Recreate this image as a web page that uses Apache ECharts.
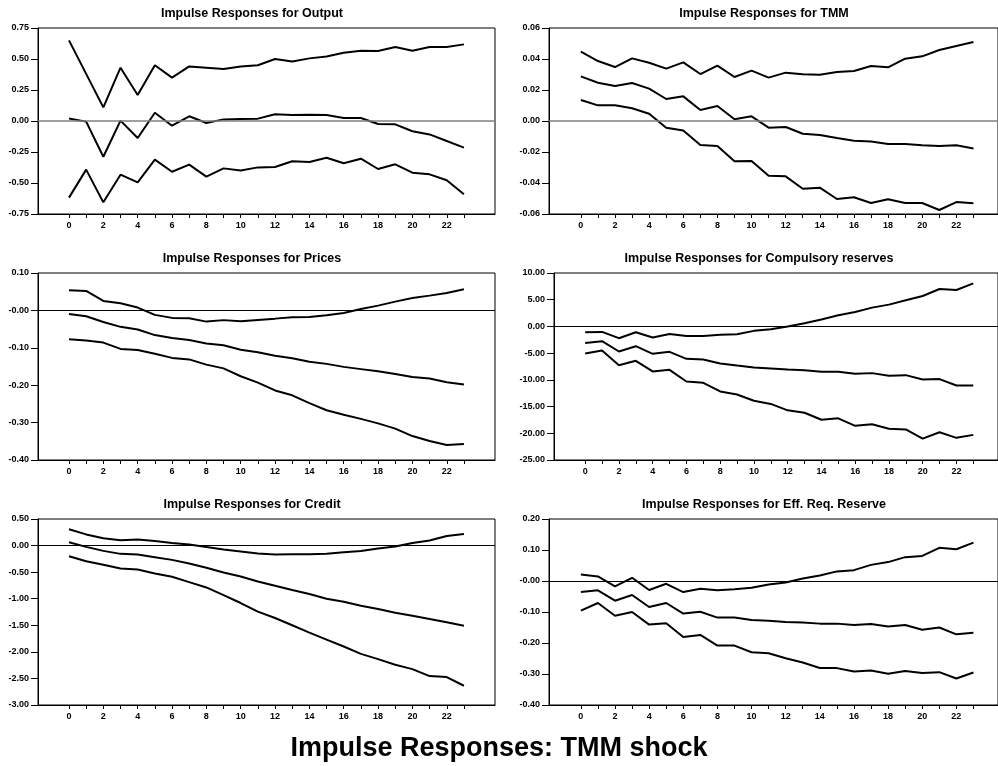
<!DOCTYPE html>
<html>
<head>
<meta charset="utf-8">
<script src="https://cdn.jsdelivr.net/npm/echarts@6/dist/echarts.min.js"></script>
<style>
html, body { margin: 0; padding: 0; background: #fff; }
#main { width: 998px; height: 766px; }
</style>
</head>
<body>
<div id="main"></div>
<script>
var horizon = [0,1,2,3,4,5,6,7,8,9,10,11,12,13,14,15,16,17,18,19,20,21,22,23];
var xTickValues = horizon;
var xLabelValues = [0,2,4,6,8,10,12,14,16,18,20,22];

// Output
var outputUpper = [0.65,0.38,0.11,0.43,0.21,0.45,0.35,0.44,0.43,0.42,0.44,0.45,0.50,0.48,0.505,0.52,0.55,0.567,0.565,0.597,0.567,0.597,0.597,0.618];
var outputMid   = [0.02,-0.005,-0.288,0.003,-0.137,0.067,-0.038,0.038,-0.016,0.013,0.016,0.019,0.054,0.048,0.051,0.048,0.024,0.024,-0.024,-0.027,-0.083,-0.108,-0.161,-0.215];
var outputLower = [-0.618,-0.392,-0.656,-0.433,-0.495,-0.312,-0.409,-0.352,-0.449,-0.382,-0.40,-0.374,-0.371,-0.325,-0.331,-0.296,-0.341,-0.304,-0.387,-0.349,-0.417,-0.430,-0.478,-0.591];

// TMM
var tmmUpper = [0.0447,0.0387,0.0348,0.0404,0.0376,0.0338,0.0378,0.0303,0.0357,0.0284,0.0325,0.028,0.0312,0.0301,0.0299,0.0316,0.0323,0.0355,0.0346,0.0402,0.0417,0.0458,0.0484,0.051];
var tmmMid   = [0.0288,0.0247,0.0226,0.0245,0.0209,0.0142,0.0159,0.0071,0.0097,0.0011,0.003,-0.0043,-0.0039,-0.0082,-0.009,-0.011,-0.0127,-0.0133,-0.0148,-0.0148,-0.0157,-0.0161,-0.0157,-0.0178];
var tmmLower = [0.0135,0.0101,0.0101,0.0082,0.0047,-0.0043,-0.0062,-0.0155,-0.0161,-0.026,-0.0258,-0.0353,-0.0357,-0.0437,-0.043,-0.0503,-0.0492,-0.0529,-0.0505,-0.0529,-0.0529,-0.0574,-0.0523,-0.0531];

// Prices
var pricesUpper = [0.0537,0.052,0.0253,0.019,0.0075,-0.012,-0.020,-0.021,-0.030,-0.026,-0.029,-0.0255,-0.022,-0.018,-0.0174,-0.013,-0.0068,0.0039,0.0128,0.0235,0.033,0.0395,0.0466,0.0564];
var pricesMid   = [-0.0094,-0.0157,-0.031,-0.044,-0.0512,-0.066,-0.074,-0.079,-0.0886,-0.093,-0.105,-0.112,-0.1215,-0.128,-0.1375,-0.143,-0.151,-0.157,-0.163,-0.170,-0.178,-0.182,-0.192,-0.198];
var pricesLower = [-0.077,-0.0804,-0.086,-0.103,-0.106,-0.116,-0.127,-0.131,-0.145,-0.155,-0.176,-0.193,-0.214,-0.227,-0.248,-0.267,-0.279,-0.290,-0.302,-0.316,-0.336,-0.349,-0.360,-0.357];

// Compulsory reserves
var reservesUpper = [-1.08,-1.02,-2.2,-1.08,-2.08,-1.4,-1.77,-1.77,-1.58,-1.46,-0.83,-0.52,-0.02,0.6,1.28,2.09,2.71,3.52,4.08,4.89,5.7,7.0,6.82,8.06];
var reservesMid   = [-3.08,-2.76,-4.69,-3.7,-5.13,-4.76,-6.06,-6.19,-6.93,-7.31,-7.68,-7.87,-8.06,-8.18,-8.49,-8.49,-8.87,-8.74,-9.24,-9.12,-9.93,-9.86,-11.05,-11.05];
var reservesLower = [-5.07,-4.52,-7.25,-6.43,-8.43,-8.12,-10.3,-10.55,-12.17,-12.73,-13.9,-14.5,-15.7,-16.15,-17.46,-17.2,-18.6,-18.3,-19.15,-19.27,-21.0,-19.8,-20.85,-20.3];

// Credit
var creditUpper = [0.306,0.21,0.1375,0.1,0.1125,0.0875,0.05,0.019,-0.025,-0.075,-0.1125,-0.15,-0.169,-0.1625,-0.1625,-0.156,-0.125,-0.1,-0.056,-0.019,0.05,0.094,0.181,0.219];
var creditMid   = [0.0625,-0.025,-0.1,-0.156,-0.169,-0.219,-0.269,-0.3375,-0.419,-0.506,-0.581,-0.675,-0.756,-0.8375,-0.9125,-1.0,-1.056,-1.131,-1.194,-1.2625,-1.319,-1.38,-1.444,-1.51];
var creditLower = [-0.2,-0.294,-0.3625,-0.431,-0.45,-0.525,-0.5875,-0.6875,-0.7875,-0.931,-1.081,-1.244,-1.3625,-1.5,-1.6375,-1.769,-1.9,-2.0375,-2.1375,-2.244,-2.325,-2.456,-2.475,-2.6375];

// Eff. Req. Reserve
var effUpper = [0.021,0.0147,-0.0175,0.0104,-0.029,-0.009,-0.0357,-0.025,-0.030,-0.027,-0.0218,-0.011,-0.0046,0.0083,0.018,0.031,0.035,0.052,0.061,0.077,0.081,0.107,0.1026,0.124];
var effMid   = [-0.0357,-0.030,-0.0636,-0.045,-0.084,-0.071,-0.105,-0.099,-0.118,-0.118,-0.1257,-0.128,-0.132,-0.134,-0.1375,-0.1375,-0.142,-0.1386,-0.147,-0.142,-0.157,-0.150,-0.172,-0.167];
var effLower = [-0.0957,-0.071,-0.112,-0.1,-0.1407,-0.1365,-0.1805,-0.174,-0.2083,-0.2083,-0.2297,-0.233,-0.249,-0.263,-0.2805,-0.281,-0.292,-0.289,-0.2995,-0.290,-0.297,-0.294,-0.3145,-0.295];

var FONT = '"Liberation Sans", Arial, Helvetica, sans-serif';

var panels = [
  { title: 'Impulse Responses for Output', lines: [outputUpper, outputMid, outputLower],
    yMin: -0.75, yMax: 0.75, yStep: 0.25, zeroColor: '#808080', zeroWidth: 1.5, negZero: false,
    grid: { left: 38, top: 28, width: 457, height: 186 }, xMin: -1.805, xMax: 24.81, tx: 252, ty: 14 },
  { title: 'Impulse Responses for TMM', lines: [tmmUpper, tmmMid, tmmLower],
    yMin: -0.06, yMax: 0.06, yStep: 0.02, zeroColor: '#808080', zeroWidth: 1.5, negZero: false,
    grid: { left: 549, top: 28, width: 451, height: 186 }, xMin: -1.867, xMax: 24.44, tx: 764, ty: 14 },
  { title: 'Impulse Responses for Prices', lines: [pricesUpper, pricesMid, pricesLower],
    yMin: -0.40, yMax: 0.10, yStep: 0.10, zeroColor: '#000', zeroWidth: 1, negZero: true,
    grid: { left: 38, top: 273, width: 457, height: 187 }, xMin: -1.805, xMax: 24.81, tx: 252, ty: 259 },
  { title: 'Impulse Responses for Compulsory reserves', lines: [reservesUpper, reservesMid, reservesLower],
    yMin: -25, yMax: 10, yStep: 5, zeroColor: '#000', zeroWidth: 1, negZero: false,
    grid: { left: 554, top: 273, width: 446, height: 187 }, xMin: -1.847, xMax: 24.465, tx: 759, ty: 259 },
  { title: 'Impulse Responses for Credit', lines: [creditUpper, creditMid, creditLower],
    yMin: -3.0, yMax: 0.5, yStep: 0.5, zeroColor: '#000', zeroWidth: 1, negZero: false,
    grid: { left: 38, top: 519, width: 457, height: 186 }, xMin: -1.805, xMax: 24.81, tx: 252, ty: 505 },
  { title: 'Impulse Responses for Eff. Req. Reserve', lines: [effUpper, effMid, effLower],
    yMin: -0.40, yMax: 0.20, yStep: 0.10, zeroColor: '#000', zeroWidth: 1, negZero: true,
    grid: { left: 549, top: 519, width: 451, height: 186 }, xMin: -1.867, xMax: 24.44, tx: 764, ty: 505 }
];

var grids = [], xAxes = [], yAxes = [], series = [], graphics = [];

panels.forEach(function (p, i) {
  grids.push({
    left: p.grid.left, top: p.grid.top, width: p.grid.width, height: p.grid.height,
    show: true, borderColor: '#000', borderWidth: 1, backgroundColor: 'transparent'
  });
  xAxes.push({
    type: 'value', gridIndex: i, min: p.xMin, max: p.xMax,
    axisLine: { show: true, onZero: false, lineStyle: { color: '#000', width: 1 } },
    axisTick: { show: true, inside: false, length: 4, customValues: xTickValues, lineStyle: { color: '#000' } },
    axisLabel: { show: true, margin: 7, customValues: xLabelValues, color: '#000',
                 fontFamily: FONT, fontSize: 9, fontWeight: 'bold' },
    splitLine: { show: false }
  });
  var negZero = p.negZero;
  yAxes.push({
    type: 'value', gridIndex: i, min: p.yMin, max: p.yMax, interval: p.yStep,
    axisLine: { show: true, onZero: false, lineStyle: { color: '#000', width: 1 } },
    axisTick: { show: true, inside: false, length: 7, lineStyle: { color: '#000' } },
    axisLabel: {
      margin: 9, color: '#000', fontFamily: FONT, fontSize: 9, fontWeight: 'bold',
      formatter: function (v) {
        if (Math.abs(v) < 1e-9) return negZero ? '-0.00' : '0.00';
        return v.toFixed(2);
      }
    },
    splitLine: { show: false }
  });
  p.lines.forEach(function (vals, k) {
    var s = {
      type: 'line', xAxisIndex: i, yAxisIndex: i,
      data: vals.map(function (v, j) { return [horizon[j], v]; }),
      symbol: 'none', smooth: false,
      lineStyle: { color: '#000', width: 2 },
      silent: true
    };
    if (k === 0) {
      s.markLine = {
        silent: true, symbol: ['none', 'none'], label: { show: false },
        lineStyle: { color: p.zeroColor, width: p.zeroWidth, type: 'solid' },
        data: [{ yAxis: 0 }]
      };
    }
    series.push(s);
  });
  graphics.push({
    type: 'text', x: p.tx, y: p.ty,
    style: { text: p.title, fill: '#000', align: 'center', verticalAlign: 'middle',
             fontFamily: FONT, fontSize: 12.5, fontWeight: 'bold' }
  });
});

graphics.push({
  type: 'text', x: 499, y: 749,
  style: { text: 'Impulse Responses: TMM shock', fill: '#000', align: 'center', verticalAlign: 'middle',
           fontFamily: FONT, fontSize: 27, fontWeight: 'bold' }
});

var chart = echarts.init(document.getElementById('main'));
chart.setOption({
  animation: false,
  backgroundColor: '#fff',
  grid: grids,
  xAxis: xAxes,
  yAxis: yAxes,
  series: series,
  graphic: graphics
});
</script>
</body>
</html>
